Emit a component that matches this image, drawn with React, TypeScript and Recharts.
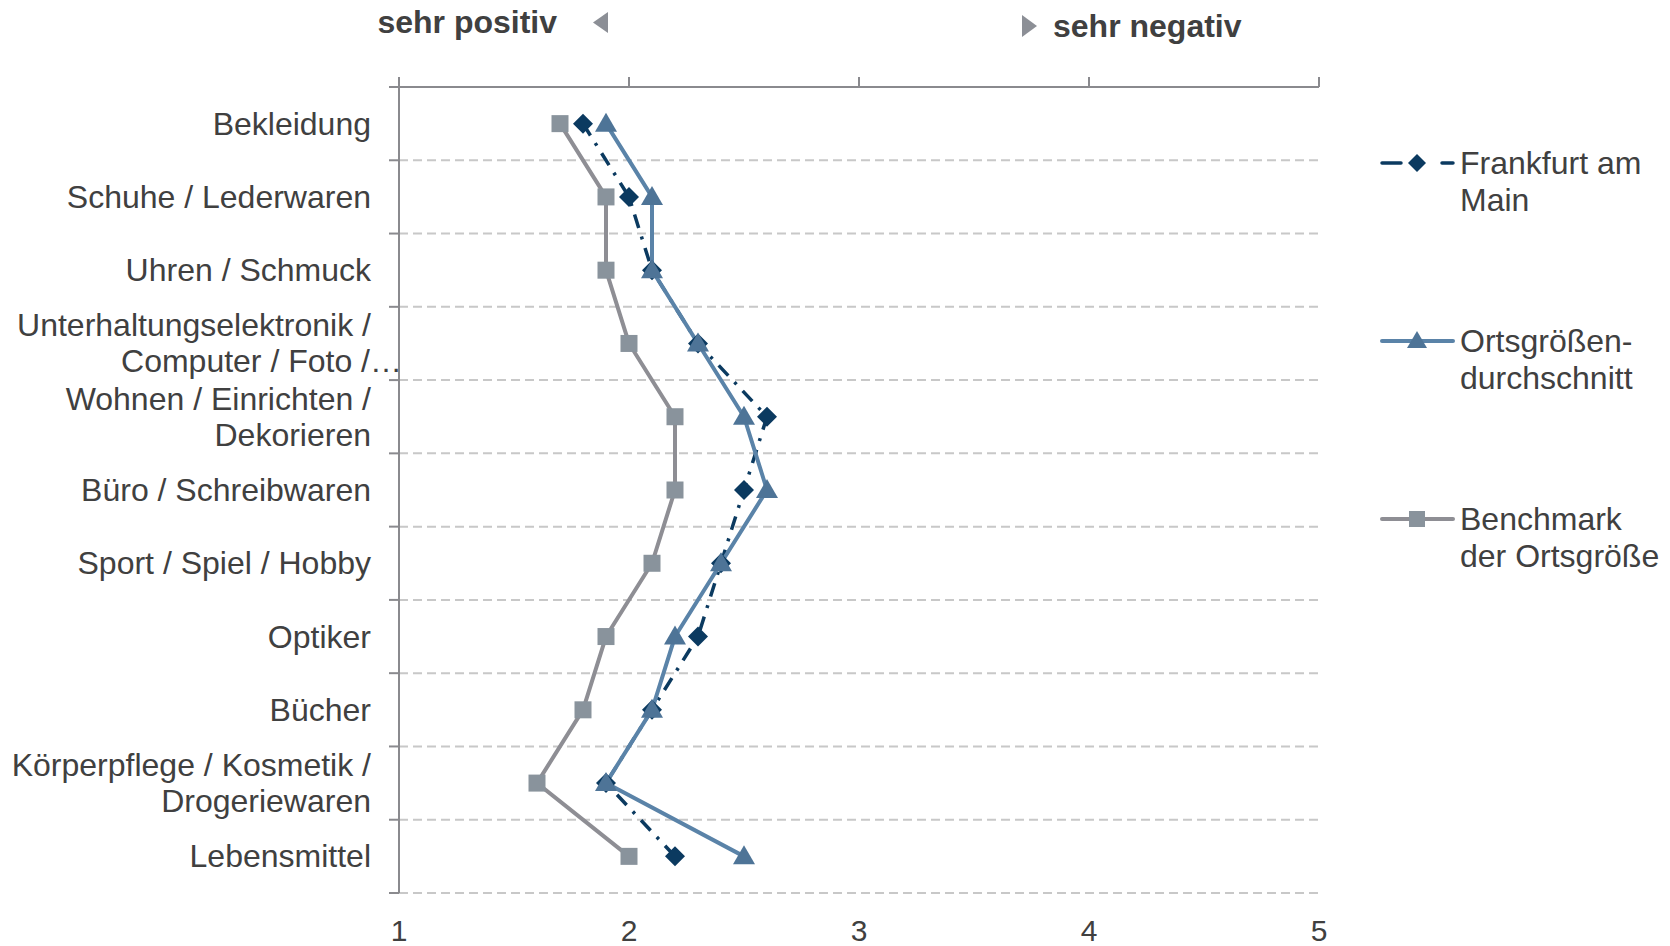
import React from 'react';
import { LineChart, Line, XAxis, YAxis, CartesianGrid } from 'recharts';

const categories = [
  'Bekleidung',
  'Schuhe / Lederwaren',
  'Uhren / Schmuck',
  'Unterhaltungselektronik /\nComputer / Foto /…',
  'Wohnen / Einrichten /\nDekorieren',
  'Büro / Schreibwaren',
  'Sport / Spiel / Hobby',
  'Optiker',
  'Bücher',
  'Körperpflege / Kosmetik /\nDrogeriewaren',
  'Lebensmittel',
];

const frankfurt = [1.8, 2.0, 2.1, 2.3, 2.6, 2.5, 2.4, 2.3, 2.1, 1.9, 2.2];
const ortsgroesse = [1.9, 2.1, 2.1, 2.3, 2.5, 2.6, 2.4, 2.2, 2.1, 1.9, 2.5];
const benchmark = [1.7, 1.9, 1.9, 2.0, 2.2, 2.2, 2.1, 1.9, 1.8, 1.6, 2.0];

const seriesNames = ['Frankfurt am\nMain', 'Ortsgrößen-\ndurchschnitt', 'Benchmark\nder Ortsgröße'];
const xTicks = [1, 2, 3, 4, 5];
const rowBounds = [0, 1, 2, 3, 4, 5, 6, 7, 8, 9, 10, 11];

const FONT = '"Liberation Sans", Arial, sans-serif';
const TEXT = '#404040';
const AXIS = '#8a8a8e';
const NAVY = '#0b3a60';
const STEEL = '#5a83a8';
const STEEL_DARK = '#4e7497';
const GREY = '#8e8e94';
const GREY_MARK = '#89939c';

const W = 1670;
const H = 946;
const PLOT_TOP = 87;
const PLOT_BOTTOM = 893;
const ROW_H = (PLOT_BOTTOM - PLOT_TOP) / categories.length;

const data = categories.map((cat, i) => ({
  pos: i + 0.5,
  cat,
  frankfurt: frankfurt[i],
  orts: ortsgroesse[i],
  bench: benchmark[i],
}));

const Diamond = (props: any) => {
  const { cx, cy, index } = props;
  if (cx == null || cy == null) return <g key={`d${index}`} />;
  const r = 10;
  return <polygon key={`d${index}`} points={`${cx},${cy - r} ${cx + r},${cy} ${cx},${cy + r} ${cx - r},${cy}`} fill={NAVY} />;
};

const Triangle = (props: any) => {
  const { cx, cy, index } = props;
  if (cx == null || cy == null) return <g key={`t${index}`} />;
  return <polygon key={`t${index}`} points={`${cx},${cy - 11} ${cx + 11},${cy + 8} ${cx - 11},${cy + 8}`} fill={STEEL_DARK} />;
};

const Square = (props: any) => {
  const { cx, cy, index } = props;
  if (cx == null || cy == null) return <g key={`s${index}`} />;
  return <rect key={`s${index}`} x={cx - 8.5} y={cy - 8.5} width={17} height={17} fill={GREY_MARK} />;
};

const CategoryTick = ({ x, y, payload }: any) => {
  const idx = payload.value;
  if (idx >= categories.length) return <g />;
  const lines = categories[idx].split('\n');
  const lh = 36;
  const start = y + ROW_H / 2 - ((lines.length - 1) * lh) / 2;
  return (
    <g>
      {lines.map((l: string, i: number) => (
        <text
          key={i}
          x={l.endsWith('…') ? x + 13 : x - 18}
          y={start + i * lh}
          dy={11}
          textAnchor="end"
          fontSize={32}
          fontFamily={FONT}
          fill={TEXT}
        >
          {l}
        </text>
      ))}
    </g>
  );
};

const ValueTick = ({ x, y, payload }: any) => (
  <text x={x} y={y + 48} textAnchor="middle" fontSize={30} fontFamily={FONT} fill={TEXT}>
    {payload.value}
  </text>
);

// tick mark of the upper axis, pointing upwards
const TopTick = ({ x, y }: any) => (
  <line x1={x} x2={x} y1={y} y2={y + 10} stroke={AXIS} strokeWidth={2} />
);

const LegendIcon = ({ i, cy }: { i: number; cy: number }) => {
  if (i === 0) {
    return (
      <g>
        <line x1={1382} x2={1401} y1={cy} y2={cy} stroke={NAVY} strokeWidth={3.5} strokeLinecap="round" />
        <polygon points={`1417,${cy - 9} 1426,${cy} 1417,${cy + 9} 1408,${cy}`} fill={NAVY} />
        <line x1={1442} x2={1453} y1={cy} y2={cy} stroke={NAVY} strokeWidth={3.5} strokeLinecap="round" />
      </g>
    );
  }
  if (i === 1) {
    return (
      <g>
        <line x1={1382} x2={1453} y1={cy} y2={cy} stroke={STEEL} strokeWidth={4} strokeLinecap="round" />
        <polygon points={`1417,${cy - 10} 1427,${cy + 7} 1407,${cy + 7}`} fill={STEEL_DARK} />
      </g>
    );
  }
  return (
    <g>
      <line x1={1382} x2={1453} y1={cy} y2={cy} stroke={GREY} strokeWidth={4} strokeLinecap="round" />
      <rect x={1409} y={cy - 8} width={16} height={16} fill={GREY_MARK} />
    </g>
  );
};

export default function App() {
  const legendTops = [163, 341, 519];
  return (
    <div style={{ position: 'absolute', left: 0, top: 0, width: W, height: H, background: '#fff', fontFamily: FONT }}>
      <div style={{ position: 'absolute', left: 0, top: 0 }}>
        <LineChart
          width={W}
          height={H}
          data={data}
          layout="vertical"
          margin={{ top: PLOT_TOP - 10, right: W - 1319, bottom: H - PLOT_BOTTOM - 45, left: 0 }}
        >
          <CartesianGrid
            vertical={false}
            horizontal
            stroke="#c8c8c8"
            strokeWidth={2}
            strokeDasharray="9 5"
          />
          <XAxis
            xAxisId="bottom"
            type="number"
            domain={[1, 5]}
            ticks={xTicks}
            interval={0}
            orientation="bottom"
            height={45}
            axisLine={false}
            tickLine={false}
            tickSize={0}
            tickMargin={0}
            tick={<ValueTick />}
          />
          <XAxis
            xAxisId="top"
            type="number"
            domain={[1, 5]}
            ticks={xTicks}
            interval={0}
            orientation="top"
            height={10}
            tickSize={10}
            tickMargin={0}
            axisLine={{ stroke: AXIS, strokeWidth: 2 }}
            tickLine={false}
            tick={<TopTick />}
          />
          <YAxis
            type="number"
            dataKey="pos"
            domain={[0, 11]}
            ticks={rowBounds}
            interval={0}
            width={399}
            tickSize={10}
            tickMargin={0}
            axisLine={{ stroke: AXIS, strokeWidth: 2 }}
            tickLine={{ stroke: AXIS, strokeWidth: 2 }}
            tick={<CategoryTick />}
          />
          <Line
            xAxisId="bottom"
            dataKey="bench"
            name="Benchmark der Ortsgröße"
            stroke={GREY}
            strokeWidth={4}
            dot={Square}
            activeDot={false}
            isAnimationActive={false}
          />
          <Line
            xAxisId="bottom"
            dataKey="frankfurt"
            name="Frankfurt am Main"
            stroke={NAVY}
            strokeWidth={3.5}
            strokeDasharray="14 9 3 9"
            dot={Diamond}
            activeDot={false}
            isAnimationActive={false}
          />
          <Line
            xAxisId="top"
            dataKey="orts"
            name="Ortsgrößendurchschnitt"
            stroke={STEEL}
            strokeWidth={4}
            dot={Triangle}
            activeDot={false}
            isAnimationActive={false}
          />
        </LineChart>
      </div>
      <svg width={W} height={H} style={{ position: 'absolute', left: 0, top: 0, pointerEvents: 'none' }}>
        <text x={557} y={33} textAnchor="end" fontSize={32} fontWeight="bold" fontFamily={FONT} fill={TEXT}>
          sehr positiv
        </text>
        <polygon points="593,22.5 608,12 608,33" fill="#8c8f96" />
        <polygon points="1022,15 1022,37 1037,26" fill="#8c8f96" />
        <text x={1053} y={37} fontSize={32} fontWeight="bold" fontFamily={FONT} fill={TEXT}>
          sehr negativ
        </text>
        {seriesNames.map((name, i) => (
          <g key={i}>
            <LegendIcon i={i} cy={legendTops[i]} />
            {name.split('\n').map((l, j) => (
              <text key={j} x={1460} y={legendTops[i] + j * 37 + 11} fontSize={32} fontFamily={FONT} fill={TEXT}>
                {l}
              </text>
            ))}
          </g>
        ))}
      </svg>
    </div>
  );
}
